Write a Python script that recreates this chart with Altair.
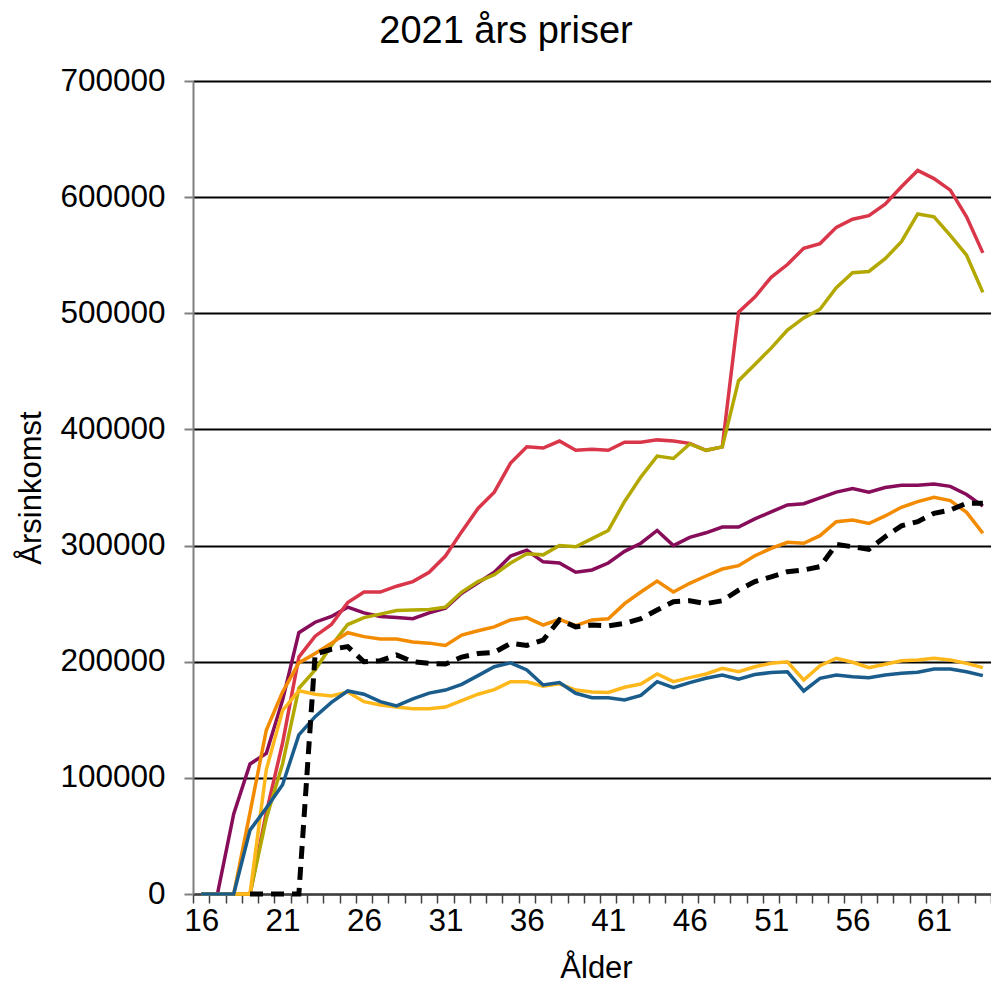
import altair as alt
import pandas as pd

ages = list(range(16, 65))

purple = [0, 0, 69000, 112000, 121000, 167000, 225000, 234000, 239000, 247000,
          242000, 239000, 238000, 237000, 242000, 246000, 259000, 268000, 277000, 291000,
          296000, 286000, 285000, 277000, 279000, 285000, 295000, 302000, 313000, 300000,
          307000, 311000, 316000, 316000, 323000, 329000, 335000, 336000, 341000, 346000,
          349000, 346000, 350000, 352000, 352000, 353000, 351000, 344000, 334000]

red = [0, 0, 0, 0, 70000, 130000, 204000, 222000, 232000, 251000,
       260000, 260000, 265000, 269000, 277000, 291000, 312000, 332000, 346000, 371000,
       385000, 384000, 390000, 382000, 383000, 382000, 389000, 389000, 391000, 390000,
       388000, 382000, 385000, 501000, 514000, 531000, 542000, 556000, 560000, 574000,
       581000, 584000, 594000, 609000, 623000, 616000, 606000, 583000, 552000]

olive = [0, 0, 0, 0, 65000, 112000, 177000, 193000, 214000, 232000,
         238000, 241000, 244000, 244500, 245000, 247000, 260000, 269000, 275000, 285000,
         293000, 292000, 300000, 299000, 306000, 313000, 338000, 359000, 377000, 375000,
         387500, 382000, 385000, 442000, 456000, 470000, 485600, 496000, 503500, 522000,
         535000, 536000, 547000, 561600, 585500, 583000, 567000, 550000, 518000]

orange = [0, 0, 0, 70000, 141000, 174000, 199000, 207000, 216000, 225000,
          221600, 219600, 219600, 217000, 216000, 214000, 223000, 226700, 230000, 236000,
          238000, 231600, 236500, 231000, 236000, 237000, 250000, 260000, 269500, 260000,
          267500, 273800, 279800, 282700, 291300, 297600, 302800, 302000, 308500, 320600,
          322000, 319000, 325500, 333000, 337800, 341500, 338700, 328600, 310600]

yellow = [0, 0, 0, 0, 107000, 158000, 175000, 172000, 170500, 174000,
          165600, 162700, 161000, 159600, 159600, 161000, 166600, 172000, 176000, 182800,
          182800, 179000, 181000, 175600, 174000, 173500, 178000, 180800, 189400, 182800,
          186300, 189400, 194300, 191400, 195700, 198600, 200000, 184300, 196600, 203000,
          199500, 194900, 197800, 200900, 201500, 203000, 201500, 198600, 194900]

blue = [0, 0, 0, 55000, 74000, 94000, 137000, 152700, 165000, 174800,
        172000, 165600, 162000, 168000, 173000, 175600, 180500, 188000, 195700, 199000,
        192900, 180000, 182000, 172800, 169000, 169000, 167000, 171000, 182800, 177600,
        182000, 185700, 188600, 184900, 189000, 190700, 191300, 174800, 185700, 188600,
        187000, 186300, 188600, 190000, 190900, 193700, 193700, 191400, 188000]

black = [None, None, None, 0, 0, 0, 0, 206600, 210700, 213000,
         200000, 200900, 205800, 200000, 198600, 198000, 204000, 207000, 208000, 215800,
         214000, 218700, 236000, 230000, 231600, 230800, 233000, 237000, 244500, 251700,
         252500, 250000, 252500, 261700, 269000, 273000, 277500, 279000, 281800, 301000,
         299000, 296800, 307600, 317000, 320600, 327800, 330600, 336400, 336400]

series = [
    ("Serie A", purple, "#870c5a"),
    ("Serie B", red, "#d9364a"),
    ("Serie C", olive, "#b3a800"),
    ("Serie D", orange, "#f38b00"),
    ("Serie E", yellow, "#ffb81c"),
    ("Serie F", blue, "#1a5d8c"),
    ("Serie G", black, "#000000"),
]

rows = []
for name, vals, _c in series:
    for a, v in zip(ages, vals):
        if v is not None:
            rows.append({"Ålder": a, "Årsinkomst": v, "serie": name})
df = pd.DataFrame(rows)

FONT = "Liberation Sans"
tick_vals = [a - 0.5 for a in ages] + [64.5]
y_vals = [0, 100000, 200000, 300000, 400000, 500000, 600000, 700000]

W = 798
band = W / 49.0

x_enc = alt.X(
    "Ålder:Q",
    scale=alt.Scale(domain=[15.5, 64.5], nice=False, zero=False),
    axis=alt.Axis(
        values=tick_vals,
        labelExpr="(datum.value - 15.5) % 5 == 0 ? format(datum.value + 0.5, 'd') : ''",
        labelOffset=band / 2,
        labelOverlap=False,
        labelFlush=False,
        labelBound=False,
        grid=False,
        tickSize=9,
        tickColor="#404040",
        tickWidth=1.5,
        domainColor="#404040",
        domainWidth=2,
        labelFontSize=31.5,
        labelFont=FONT,
        labelColor="#000000",
        labelPadding=2,
        title="Ålder",
        titleFont=FONT,
        titleFontSize=31,
        titleFontWeight="normal",
        titleColor="#000000",
        titleBaseline="alphabetic",
        titleX=W / 2 + 4,
        titleY=83,
    ),
)

y_enc = alt.Y(
    "Årsinkomst:Q",
    scale=alt.Scale(domain=[0, 700000], nice=False),
    axis=alt.Axis(
        values=y_vals,
        format="d",
        grid=True,
        gridColor="#000000",
        gridWidth=2,
        tickSize=9,
        tickColor="#808080",
        tickWidth=2,
        domainColor="#808080",
        domainWidth=2,
        labelFontSize=31.5,
        labelFont=FONT,
        labelColor="#000000",
        labelPadding=19,
        title="Årsinkomst",
        titleFont=FONT,
        titleFontSize=31,
        titleFontWeight="normal",
        titleColor="#000000",
        titlePadding=12,
    ),
)

layers = []
for name, _v, color in series:
    if name == "Serie G":
        mark = alt.Chart(df).mark_line(color=color, strokeWidth=5, strokeDash=[13, 8])
    else:
        mark = alt.Chart(df).mark_line(color=color, strokeWidth=3.5)
    layers.append(mark.transform_filter(alt.datum.serie == name).encode(x=x_enc, y=y_enc))

chart = (
    alt.layer(*layers)
    .properties(
        width=W,
        height=813,
        padding={"left": 185, "top": 73, "right": 0, "bottom": 90},
        autosize="none",
        title=alt.Title(
            "2021 års priser",
            font=FONT,
            fontSize=38,
            fontWeight="normal",
            color="#000000",
            anchor="middle",
            offset=14,
            dx=-86,
        ),
    )
    .configure_view(strokeWidth=0)
    .configure(font=FONT)
)

chart.save("out.html", embed_options={"renderer": "svg", "actions": False})
